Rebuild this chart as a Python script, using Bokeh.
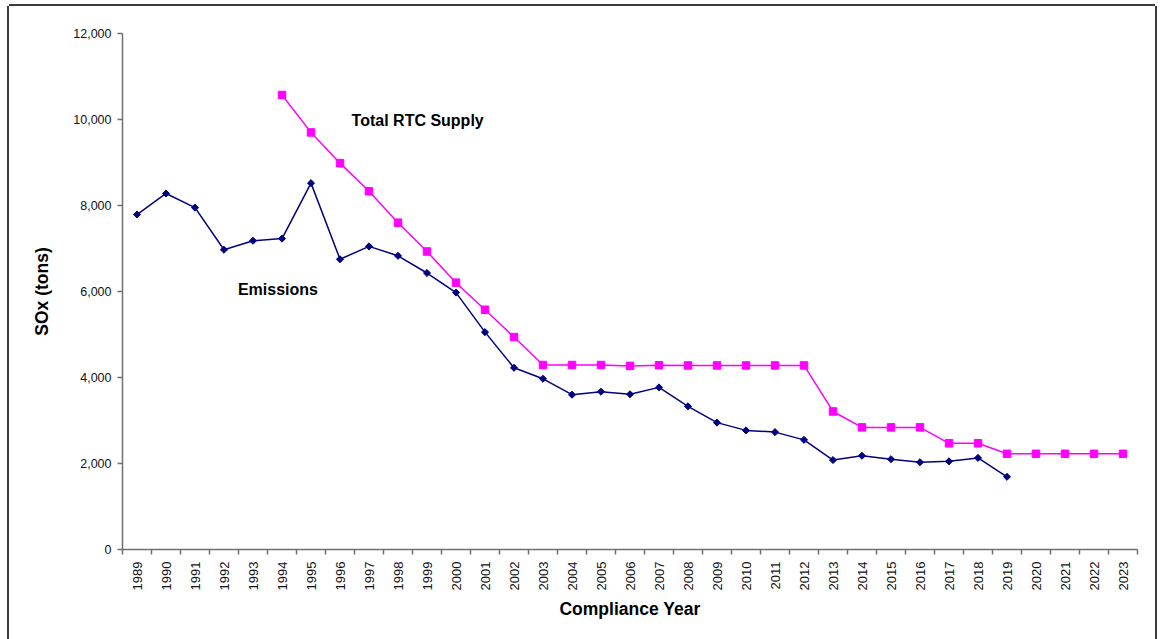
import math
from bokeh.plotting import figure
from bokeh.models import Range1d, FixedTicker, NumeralTickFormatter
from bokeh.core.properties import value
from bokeh.embed import file_html
from bokeh.resources import INLINE

# ---- data ----
years = list(range(1989, 2024))
emission_years = list(range(1989, 2020))
emissions = [7790, 8280, 7950, 6970, 7180, 7230, 8520, 6750, 7050, 6830,
             6430, 5975, 5055, 4225, 3970, 3600, 3670, 3610, 3770, 3330,
             2950, 2770, 2730, 2550, 2080, 2180, 2100, 2030, 2050, 2130,
             1690]
supply_years = list(range(1994, 2024))
supply = [10570, 9700, 8985, 8330, 7600, 6930, 6205, 5575, 4940, 4290,
          4290, 4290, 4270, 4285, 4280, 4280, 4280, 4280, 4280, 3210,
          2840, 2840, 2840, 2470, 2470, 2225, 2225, 2225, 2225, 2225]
y_ticks = [0, 2000, 4000, 6000, 8000, 10000, 12000]

FONT = "Liberation Sans"
NAVY = "#000080"
MAGENTA = "#FF00FF"
AXIS = "#6f6f6f"

p = figure(width=1146, height=633, output_backend="svg", toolbar_location=None,
           x_range=Range1d(years[0] - 0.5, years[-1] + 0.5),
           y_range=Range1d(0, 12000),
           min_border_left=113, min_border_right=18,
           min_border_top=27, min_border_bottom=90)
p.margin = (6, 0, 0, 9)
p.outline_line_color = None
p.xgrid.grid_line_color = None
p.ygrid.grid_line_color = None
p.background_fill_color = "white"
p.border_fill_color = "white"
p.styles = {"box-shadow": "-2px 0 0 #3c3c3c, 2px 0 0 #3c3c3c, 0 -2px 0 #3c3c3c"}

# x axis
xa = p.xaxis[0]
xa.ticker = FixedTicker(ticks=years, minor_ticks=[y - 0.5 for y in years] + [years[-1] + 0.5])
xa.formatter = NumeralTickFormatter(format="0")
xa.major_label_orientation = math.pi / 2
xa.major_tick_line_color = None
xa.major_tick_out = 0
xa.major_tick_in = 0
xa.minor_tick_line_color = AXIS
xa.minor_tick_line_width = 1.5
xa.minor_tick_out = 5
xa.minor_tick_in = 0
xa.major_label_standoff = 7
xa.major_label_text_font = FONT
xa.major_label_text_font_size = "13px"
xa.major_label_text_color = "#111111"
xa.axis_line_color = AXIS
xa.axis_line_width = 1.5
xa.axis_label = "Compliance Year"
xa.axis_label_text_font = FONT
xa.axis_label_text_font_size = "17.5px"
xa.axis_label_text_font_style = "bold"
xa.axis_label_text_color = "#000000"
xa.axis_label_standoff = 6

# y axis
ya = p.yaxis[0]
ya.ticker = FixedTicker(ticks=y_ticks)
ya.formatter = NumeralTickFormatter(format="0,0")
ya.major_tick_line_color = AXIS
ya.major_tick_line_width = 1.5
ya.major_tick_out = 5
ya.major_tick_in = 0
ya.minor_tick_line_color = None
ya.major_label_standoff = 6
ya.major_label_text_font = FONT
ya.major_label_text_font_size = "12.5px"
ya.major_label_text_color = "#111111"
ya.axis_line_color = AXIS
ya.axis_line_width = 1.5
ya.axis_label = "SOx (tons)"
ya.axis_label_text_font = FONT
ya.axis_label_text_font_size = "17.5px"
ya.axis_label_text_font_style = "bold"
ya.axis_label_text_color = "#000000"
ya.axis_label_standoff = 18

# series
p.line(supply_years, supply, line_color=MAGENTA, line_width=1.5)
p.scatter(supply_years, supply, marker="square", size=7.5,
          fill_color=MAGENTA, line_color=MAGENTA, line_width=1)

p.line(emission_years, emissions, line_color=NAVY, line_width=1.5)
p.scatter(emission_years, emissions, marker="square", size=5, angle=math.pi / 4,
          fill_color=NAVY, line_color=NAVY, line_width=1)

# in-chart labels
p.text(x=[1996.4], y=[9980], text=["Total RTC Supply"], text_font=value(FONT),
       text_font_size="16px", text_font_style="bold", text_color="#000000",
       text_baseline="alphabetic", text_align="left")
p.text(x=[1992.48], y=[6050], text=["Emissions"], text_font=value(FONT),
       text_font_size="16px", text_font_style="bold", text_color="#000000",
       text_baseline="alphabetic", text_align="left")

open("out.html", "w").write(file_html(p, INLINE))
